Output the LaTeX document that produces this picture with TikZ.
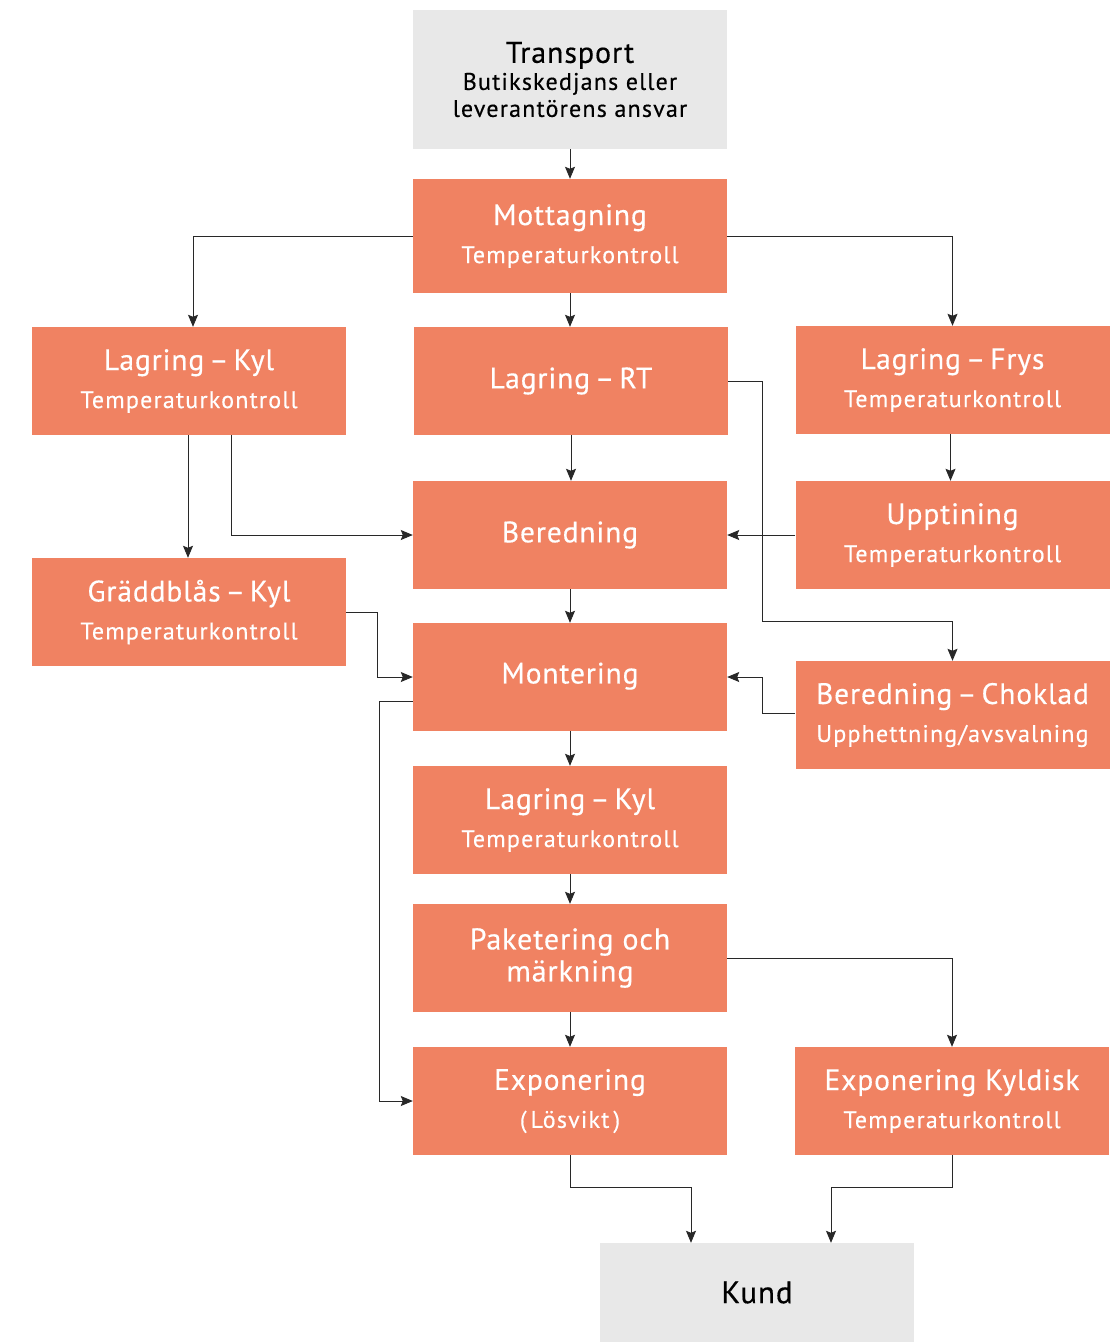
\documentclass[tikz,border=0pt]{standalone}
\usepackage{fontspec}
\setmainfont{PT Sans}
\newfontfamily\dinfont[LetterSpace=3,FakeBold=0.4]{PT Sans}
\newfontfamily\subfont[LetterSpace=5,FakeBold=0.4]{PT Sans}
\usetikzlibrary{arrows.meta}
\definecolor{boxorange}{RGB}{240,130,98}
\definecolor{boxgray}{RGB}{232,232,232}
\definecolor{linegray}{RGB}{40,40,40}
\newcommand{\ttl}[1]{{\dinfont\fontsize{29.5}{30}\selectfont #1}}
\tikzset{
  procbox/.style={rectangle, fill=boxorange, text=white, minimum width=314pt, minimum height=108pt, inner sep=0pt, align=center, font=\subfont\fontsize{24}{38}\selectfont},
  endbox/.style={rectangle, fill=boxgray, text=black, minimum width=314pt, inner sep=0pt, align=center},
  conn/.style={draw=linegray, line width=0.9pt, -{Stealth[length=12pt,width=10pt,inset=2pt]}}
}
\begin{document}
\begin{tikzpicture}[x=1pt,y=-1pt]
\useasboundingbox (0,0) rectangle (1109,1342);
% nodes
\node[endbox, minimum height=139pt, font=\subfont\fontsize{24}{27}\selectfont] (tr) at (570,79.5) {{\dinfont\fontsize{30}{38}\selectfont Transport}\\Butikskedjans eller\\leverantörens ansvar};
\node[procbox, minimum height=114pt] (mot) at (570,236) {\ttl{Mottagning}\\Temperaturkontroll};
\node[procbox] (lk) at (189,381) {\ttl{Lagring\,–\,Kyl}\\Temperaturkontroll};
\node[procbox] (rt) at (571,381) {\ttl{Lagring\,–\,RT}};
\node[procbox] (frys) at (952.5,380) {\ttl{Lagring\,–\,Frys}\\Temperaturkontroll};
\node[procbox] (ber) at (570,535) {\ttl{Beredning}};
\node[procbox] (upp) at (952.5,535) {\ttl{Upptining}\\Temperaturkontroll};
\node[procbox] (gr) at (189,612) {\ttl{Gräddblås\,–\,Kyl}\\Temperaturkontroll};
\node[procbox] (mon) at (570,677) {\raisebox{8pt}{\ttl{Montering}}};
\node[procbox] (choc) at (952.5,715) {\ttl{Beredning\,–\,Choklad}\\Upphettning/avsvalning};
\node[procbox] (lk2) at (570,820) {\ttl{Lagring\,–\,Kyl}\\Temperaturkontroll};
\node[procbox, font=\dinfont\fontsize{30}{32}\selectfont] (pak) at (570,958) {Paketering och\\märkning};
\node[procbox] (exp) at (570,1101) {\ttl{Exponering}\\(\,Lösvikt\,)};
\node[procbox] (kyl) at (952,1101) {\ttl{Exponering Kyldisk}\\Temperaturkontroll};
\node[endbox, minimum height=99pt, font=\dinfont\fontsize{31}{32}\selectfont] (kund) at (757,1292.5) {Kund};
% helper coordinates
\coordinate (c1) at (762,621);
\coordinate (c2) at (377,677);
\coordinate (c3) at (762,677);
\coordinate (c4) at (379,1101);
\coordinate (c5) at (691,1187);
\coordinate (c6) at (831,1187);
% connectors
\draw[conn] (tr) -- (mot);
\draw[conn] (mot.west) -| ([xshift=4pt]lk.north);
\draw[conn] (mot.east) -| (frys.north);
\draw[conn] (mot) -- (mot.south |- rt.north);
\draw[conn] (rt) -- (rt.south |- ber.north);
\draw[conn] (rt.east) -| (c1) -| (choc.north);
\draw[conn] ([xshift=-2pt]frys.south) -- ([xshift=-2pt]upp.north);
\draw[conn] (upp.west) -- (ber.east);
\draw[conn] ([xshift=-1pt]lk.south) -- ([xshift=-1pt]gr.north);
\draw[conn] ([xshift=42pt]lk.south) |- (ber.west);
\draw[conn] (gr.east) -| (c2) -- (mon.west);
\draw[conn] (ber) -- (ber.south |- mon.north);
\draw[conn] ([yshift=2pt]choc.west) -| (c3) -- (mon.east);
\draw[conn] ([yshift=-24pt]mon.west) -| (c4) -- (exp.west);
\draw[conn] (mon) -- (mon.south |- lk2.north);
\draw[conn] (lk2) -- (lk2.south |- pak.north);
\draw[conn] (pak.east) -| (kyl.north);
\draw[conn] (pak) -- (pak.south |- exp.north);
\draw[conn] (exp.south) |- (c5) -- (c5 |- kund.north);
\draw[conn] (kyl.south) |- (c6) -- (c6 |- kund.north);
\end{tikzpicture}
\end{document}
